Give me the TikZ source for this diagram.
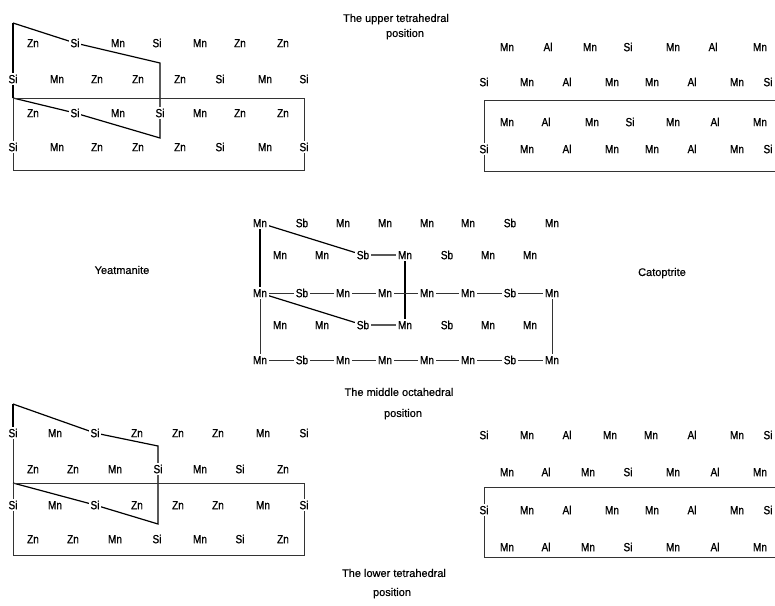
\documentclass[tikz,border=0pt]{standalone}
\usepackage{fontspec}
\setmainfont{Liberation Sans}[FakeBold=0.5]
\newfontfamily\elfont{Liberation Sans}[FakeStretch=0.85,FakeBold=0.7]
\pgfdeclarelayer{bg}
\pgfsetlayers{bg,main}
\tikzset{
  el/.style={font=\elfont\fontsize{11.8}{12}\selectfont, inner sep=1.6pt, fill=white, text height=8.4pt, text depth=0pt},
  lbl/.style={font=\fontsize{11}{12}\selectfont, inner sep=0pt, text height=7.9pt, text depth=0pt},
  boldline/.style={line width=1.2pt, black},
  fineline/.style={line width=0.7pt, black!80},
}
\begin{document}
\begin{tikzpicture}[x=1pt,y=-1pt]
\useasboundingbox (0,0) rectangle (775,605);

% ---------- labels ----------
\node[lbl] (tup1) at (396,18) {The upper tetrahedral};
\node[lbl] (tup2) at (405,33) {position};
\node[lbl] (tmid1) at (399,392) {The middle octahedral};
\node[lbl] (tmid2) at (403,413) {position};
\node[lbl] (tlow1) at (394,573) {The lower tetrahedral};
\node[lbl] (tlow2) at (392,592) {position};
\node[lbl] (yeat) at (122,270) {Yeatmanite};
\node[lbl] (cato) at (662,272) {Catoptrite};

% ---------- top left (Yeatmanite, upper) ----------
\foreach \x/\t [count=\i] in {33/Zn,75/Si,118/Mn,157/Si,200/Mn,240/Zn,283/Zn}
  \node[el] (TLa\i) at (\x,43) {\t};
\foreach \x/\t [count=\i] in {13/Si,57/Mn,97/Zn,138/Zn,180/Zn,220/Si,265/Mn,304/Si}
  \node[el] (TLb\i) at (\x,79) {\t};
\foreach \x/\t [count=\i] in {33/Zn,75/Si,118/Mn,160/Si,200/Mn,240/Zn,283/Zn}
  \node[el] (TLc\i) at (\x,113) {\t};
\foreach \x/\t [count=\i] in {13/Si,57/Mn,97/Zn,138/Zn,180/Zn,220/Si,265/Mn,304/Si}
  \node[el] (TLd\i) at (\x,147) {\t};
\coordinate (TLp1) at (13,23);
\coordinate (TLp2) at (160,63);
\coordinate (TLp3) at (13,98);
\coordinate (TLp4) at (160,138);
\coordinate (TLr2) at (304,98);
\coordinate (TLr3) at (304,170);
\coordinate (TLr4) at (13,170);

% ---------- top right (Catoptrite, upper) ----------
\foreach \x/\t [count=\i] in {507/Mn,548/Al,590/Mn,628/Si,673/Mn,713/Al,760/Mn}
  \node[el] (TRa\i) at (\x,47) {\t};
\foreach \x/\t [count=\i] in {484/Si,527/Mn,567/Al,612/Mn,652/Mn,692/Al,737/Mn,768/Si}
  \node[el] (TRb\i) at (\x,82) {\t};
\foreach \x/\t [count=\i] in {507/Mn,546/Al,592/Mn,630/Si,673/Mn,715/Al,760/Mn}
  \node[el] (TRc\i) at (\x,122) {\t};
\foreach \x/\t [count=\i] in {484/Si,527/Mn,567/Al,612/Mn,652/Mn,692/Al,737/Mn,768/Si}
  \node[el] (TRd\i) at (\x,149) {\t};
\coordinate (TRr1) at (484,100);
\coordinate (TRr2) at (790,100);
\coordinate (TRr3) at (790,171);
\coordinate (TRr4) at (484,171);

% ---------- middle (octahedral) ----------
\foreach \r/\y in {a/223,c/293,e/360}{
  \foreach \x/\t [count=\i] in {260/Mn,302/Sb,343/Mn,385/Mn,427/Mn,468/Mn,510/Sb,552/Mn}
    \node[el] (M\r\i) at (\x,\y) {\t};
}
\foreach \r/\y in {b/255,d/325}{
  \foreach \x/\t [count=\i] in {280/Mn,322/Mn,363/Sb,405/Mn,447/Sb,488/Mn,530/Mn}
    \node[el] (M\r\i) at (\x,\y) {\t};
}

% ---------- bottom left (Yeatmanite, lower) ----------
\foreach \x/\t [count=\i] in {13/Si,55/Mn,95/Si,137/Zn,178/Zn,218/Zn,263/Mn,304/Si}
  \node[el] (BLa\i) at (\x,433) {\t};
\foreach \x/\t [count=\i] in {33/Zn,73/Zn,115/Mn,158/Si,200/Mn,240/Si,283/Zn}
  \node[el] (BLb\i) at (\x,469) {\t};
\foreach \x/\t [count=\i] in {13/Si,55/Mn,95/Si,137/Zn,178/Zn,218/Zn,263/Mn,304/Si}
  \node[el] (BLc\i) at (\x,505) {\t};
\foreach \x/\t [count=\i] in {33/Zn,73/Zn,115/Mn,157/Si,200/Mn,240/Si,283/Zn}
  \node[el] (BLd\i) at (\x,539) {\t};
\coordinate (BLp1) at (13,404);
\coordinate (BLp2) at (158,446);
\coordinate (BLp3) at (13,483);
\coordinate (BLp4) at (158,524);
\coordinate (BLr2) at (304,483);
\coordinate (BLr3) at (304,555);
\coordinate (BLr4) at (13,555);

% ---------- bottom right (Catoptrite, lower) ----------
\foreach \x/\t [count=\i] in {484/Si,527/Mn,567/Al,610/Mn,651/Mn,692/Al,737/Mn,768/Si}
  \node[el] (BRa\i) at (\x,435) {\t};
\foreach \x/\t [count=\i] in {507/Mn,546/Al,588/Mn,628/Si,673/Mn,715/Al,760/Mn}
  \node[el] (BRb\i) at (\x,472) {\t};
\foreach \x/\t [count=\i] in {484/Si,527/Mn,567/Al,612/Mn,652/Mn,692/Al,737/Mn,768/Si}
  \node[el] (BRc\i) at (\x,510) {\t};
\foreach \x/\t [count=\i] in {507/Mn,546/Al,588/Mn,628/Si,673/Mn,715/Al,760/Mn}
  \node[el] (BRd\i) at (\x,547) {\t};
\coordinate (BRr1) at (484,487);
\coordinate (BRr2) at (790,487);
\coordinate (BRr3) at (790,557);
\coordinate (BRr4) at (484,557);

% ---------- connectors ----------
\begin{pgfonlayer}{bg}
  % top left
  \draw[boldline] (TLp1) -- (TLa2.center) -- (TLp2) -- (TLc4.center);
  \draw[boldline] (TLp1) -- (TLb1.center) -- (TLp3);
  \draw[boldline] (TLp3) -- (TLc2.center) -- (TLp4) -- (TLc4.center);
  \draw[fineline] (TLp3) -- (TLr2) -- (TLr3) -- (TLr4) -- cycle;
  % top right
  \draw[fineline] (TRr2) -- (TRr1) -- (TRr4) -- (TRr3);
  % middle
  \draw[boldline] (Ma1.center) -- (Mb3.center) -- (Mb4.center);
  \draw[boldline] (Ma1.center) -- (Mc1.center);
  \draw[boldline] (Mc1.center) -- (Md3.center) -- (Md4.center);
  \draw[boldline] (Mb4.center) -- (Md4.center);
  \draw[fineline] (Mc1.center) -- (Me1.center);
  \draw[fineline] (Mc8.center) -- (Me8.center);
  \draw[fineline] (Mc1.center) -- (Mc8.center);
  \draw[fineline] (Me1.center) -- (Me8.center);
  % bottom left
  \draw[boldline] (BLp1) -- (BLa3.center) -- (BLp2) -- (BLb4.center);
  \draw[boldline] (BLp1) -- (BLa1.center);
  \draw[fineline] (BLa1.center) -- (BLp3);
  \draw[boldline] (BLp3) -- (BLc3.center) -- (BLp4) -- (BLb4.center);
  \draw[fineline] (BLp3) -- (BLr2) -- (BLr3) -- (BLr4) -- cycle;
  % bottom right
  \draw[fineline] (BRr2) -- (BRr1) -- (BRr4) -- (BRr3);
\end{pgfonlayer}
\end{tikzpicture}
\end{document}
